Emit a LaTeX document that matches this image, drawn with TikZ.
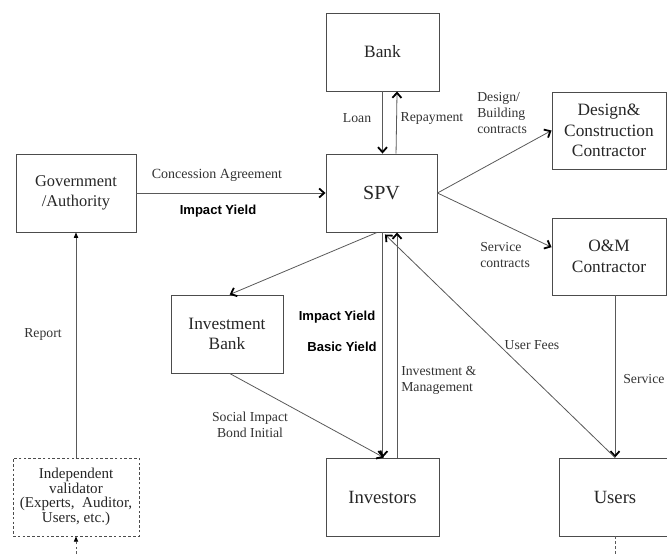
\documentclass[tikz,border=0pt]{standalone}
\usepackage{fontspec}
\setmainfont{Liberation Serif}
\newfontfamily\boldsans{Liberation Sans}[BoldFont={Liberation Sans Bold}]
\usetikzlibrary{arrows.meta}
\begin{document}
\begin{tikzpicture}[x=0.75pt,y=-0.75pt,
  box/.style={draw=black!70, line width=0.7pt, inner sep=0pt, align=center,
    text=black!85, font=\fontsize{13}{15.5}\selectfont},
  dashbox/.style={box, dash pattern=on 2pt off 1.6pt, line width=0.6pt},
  conn/.style={draw=black!65, line width=0.6pt},
  arr/.style={conn, -{Straight Barb[length=3.8pt,width=6.8pt,line width=1.35pt,color=black]}},
  farr/.style={conn, -{Triangle[length=4pt,width=3.2pt,color=black]}},
  lbl/.style={inner sep=0pt, text=black!80, font=\fontsize{10.3}{12}\selectfont},
  blbl/.style={inner sep=0pt, text=black, font=\boldsans\bfseries\fontsize{9.8}{12}\selectfont},
]
\useasboundingbox (0,0) rectangle (667,554);

% organisations
\node[box, minimum width=84.75pt, minimum height=58.5pt] (bank) at (382.5,52) {Bank};
\node[box, minimum width=83.25pt, minimum height=58.5pt,
      font=\fontsize{15}{18}\selectfont] (spv) at (381.5,193) {SPV};
\node[box, minimum width=90pt, minimum height=58.5pt,
      font=\fontsize{12.3}{15}\selectfont] (gov) at (76,193) {Government\\/Authority};
\node[box, minimum width=85.5pt, minimum height=57.75pt] (dc) at (609,130.5)
      {Design\&\\Construction\\Contractor};
\node[box, minimum width=85.5pt, minimum height=57.75pt] (om) at (609,256.5)
      {O\&M\\Contractor};
\node[box, minimum width=84pt, minimum height=58.5pt] (ib) at (227,334)
      {Investment\\Bank};
\node[box, minimum width=84.75pt, minimum height=58.5pt,
      font=\fontsize{14}{17}\selectfont] (investors) at (382.5,497) {Investors};
\node[box, minimum width=84pt, minimum height=58.5pt,
      font=\fontsize{14}{17}\selectfont] (users) at (615,497) {Users};
\node[dashbox, minimum width=94.5pt, minimum height=58.5pt,
      font=\fontsize{11.3}{11}\selectfont] (val) at (76,497)
      {Independent\\validator\\(Experts,~ Auditor,\\Users, etc.)};

% free ends at the lower edge
\coordinate (valin) at (76,554);
\coordinate (usersout) at (615,554);

% flows
\draw[arr] (gov) -- (spv);
\draw[arr] (bank.south) -- (bank.south |- spv.north);
\draw[arr] ([xshift=10.9pt]spv.north) -- ([xshift=10.9pt]bank.south);
\draw[arr] (spv.east) -- (dc.west);
\draw[arr] (spv.east) -- ([yshift=7pt]om.west);
\draw[arr] (om.south -| users.north) -- (users.north);
\draw[arr] (users.north) -- ([xshift=2.6pt,yshift=-1.5pt]spv.south);
\draw[arr] ([xshift=1pt]spv.south) -- ([xshift=1pt]spv.south |- investors.north);
\draw[arr] ([xshift=10.9pt]investors.north) -- ([xshift=10.9pt]investors.north |- spv.south);
\draw[arr] ([xshift=-3.4pt]spv.south) -- ([xshift=2pt]ib.north);
\draw[arr] ([xshift=2pt]ib.south) -- ([xshift=1pt]investors.north);
\draw[farr] (val.north) -- (gov.south);
\draw[farr, dash pattern=on 2pt off 1.6pt] (valin) -- (val.south);
\draw[conn, dash pattern=on 2pt off 1.6pt] (users.south) -- (usersout);

% labels
\node[lbl, font=\fontsize{10.5}{12}\selectfont] (lconc) at (217,175) {Concession Agreement};
\node[blbl] (liy1) at (218,211) {Impact Yield};
\node[lbl] (lloan) at (357,118) {Loan};
\node[lbl] (lrep) at (432,118) {Repayment};
\node[lbl, anchor=west, align=left] (ldes) at (477,113) {Design/\\Building\\contracts};
\node[lbl, anchor=west, align=left] (lsc) at (480,255.5) {Service\\contracts};
\node[lbl, anchor=west] (lserv) at (623,379) {Service};
\node[lbl] (lfees) at (532,345) {User Fees};
\node[lbl, anchor=west, align=left] (linv) at (401,380.5) {Investment \&\\Management};
\node[blbl] (liy2) at (337,317) {Impact Yield};
\node[blbl] (lby) at (342,347) {Basic Yield};
\node[lbl, align=center] (lsib) at (250,425) {Social Impact\\Bond Initial};
\node[lbl] (lrepo) at (43,334) {Report};
\end{tikzpicture}
\end{document}
